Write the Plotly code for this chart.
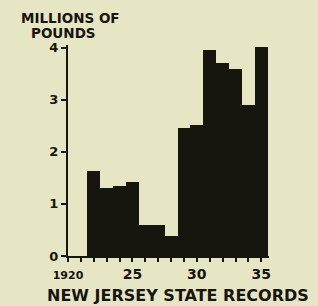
import plotly.graph_objects as go

years = list(range(1922, 1936))
pounds_millions = [1.64, 1.31, 1.34, 1.43, 0.6, 0.6, 0.38, 2.46, 2.52, 3.96, 3.7, 3.58, 2.9, 4.02]

y_ticks = [0, 1, 2, 3, 4]
y_tick_labels = ["0", "1", "2", "3", "4"]
x_ticks = list(range(1920, 1936))
x_tick_labels = [
    '<span style="font-size:11px">1920</span>' if y == 1920 else (str(y)[2:] if y % 5 == 0 else "")
    for y in x_ticks
]

bg = "#e7e6c4"
ink = "#16150e"
font_family = "DejaVu Sans, Liberation Sans, Arial, sans-serif"

fig = go.Figure()
fig.add_trace(go.Bar(
    x=years, y=pounds_millions, width=1.0,
    marker=dict(color=ink, line=dict(width=0)),
    hoverinfo="skip",
))

L, R, T, B = 68, 269, 45, 256
W, H = 318, 306
pw, ph = R - L, B - T

fig.update_layout(
    width=W, height=H,
    paper_bgcolor=bg, plot_bgcolor=bg,
    margin=dict(l=L, r=W - R, t=T, b=H - B, autoexpand=False),
    showlegend=False,
    bargap=0,
    font=dict(family=font_family, color=ink, size=13, weight=700),
    xaxis=dict(
        range=[1920, 1935.6],
        tickvals=x_ticks, ticktext=x_tick_labels,
        ticks="outside", ticklen=4, tickwidth=2, tickcolor=ink,
        showline=True, linecolor=ink, linewidth=2,
        showgrid=False, zeroline=False,
        tickangle=0, automargin=False,
        tickfont=dict(size=14, weight=700, color=ink),
    ),
    yaxis=dict(
        range=[0, 4.05],
        tickvals=y_ticks, ticktext=y_tick_labels,
        ticks="outside", ticklen=5, tickwidth=2, tickcolor=ink,
        showline=True, linecolor=ink, linewidth=2,
        showgrid=False, zeroline=False, automargin=False,
        tickfont=dict(size=13, weight=700, color=ink),
    ),
    annotations=[
        dict(text="MILLIONS OF", xref="paper", yref="paper",
             x=(70 - L) / pw, y=1 + (T - 18.5) / ph, xanchor="center", yanchor="middle",
             showarrow=False, font=dict(size=13.5, weight=700, color=ink)),
        dict(text="POUNDS", xref="paper", yref="paper",
             x=(63.5 - L) / pw, y=1 + (T - 32.5) / ph, xanchor="center", yanchor="middle",
             showarrow=False, font=dict(size=13.5, weight=700, color=ink)),
        dict(text="NEW JERSEY STATE RECORDS", xref="paper", yref="paper",
             x=(177.5 - L) / pw, y=-(295 - B) / ph, xanchor="center", yanchor="middle",
             showarrow=False, font=dict(size=16, weight=700, color=ink)),
    ],
)

fig.write_html(
    "out.html",
    config={"displayModeBar": False},
    post_script="document.body.style.margin='0';document.body.style.overflow='hidden';",
)
